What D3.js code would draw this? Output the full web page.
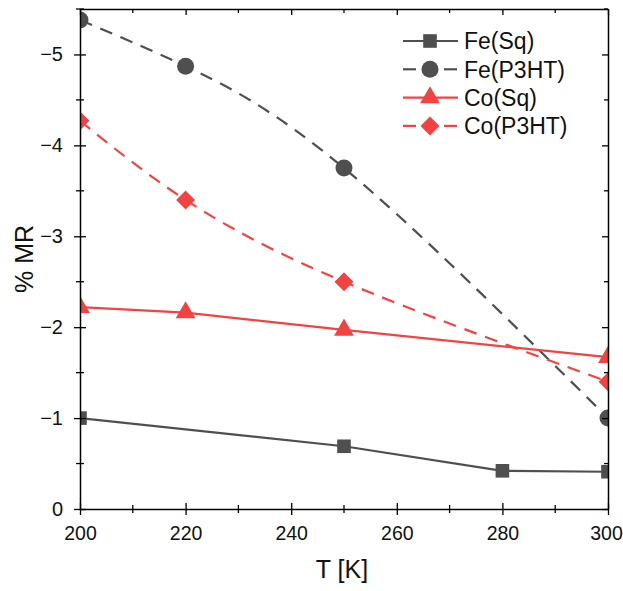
<!DOCTYPE html>
<html><head><meta charset="utf-8">
<script src="https://cdn.jsdelivr.net/npm/d3@7"></script>
<style>body{margin:0;background:#fff}svg{display:block}text{font-family:"Liberation Sans",Arial,sans-serif}</style>
</head><body><svg id="c" width="623" height="591"></svg>
<script>
const feSqT = [200, 250, 280, 300];
const feSq = [-1.0, -0.69, -0.42, -0.41];
const feP3T = [200, 220, 250, 300];
const feP3 = [-5.38, -4.87, -3.75, -1.0];
const coSqT = [200, 220, 250, 300];
const coSq = [-2.22, -2.16, -1.97, -1.67];
const coP3T = [200, 220, 250, 300];
const coP3 = [-4.27, -3.40, -2.50, -1.40];
const xTicks = [200, 220, 240, 260, 280, 300];
const yTicks = [0, -1, -2, -3, -4, -5];
const seriesNames = ["Fe(Sq)", "Fe(P3HT)", "Co(Sq)", "Co(P3HT)"];

const W = 623, H = 591;
const m = {l: 80, r: 15, t: 9, b: 82};
const svg = d3.select("#c");
const x = d3.scaleLinear().domain([200, 300]).range([m.l, W - m.r]);
const y = d3.scaleLinear().domain([0, -5.5]).range([H - m.b, m.t]);

const gray = "#4f4f4f", red = "#f24343";
const diamond = {draw(ctx, size) { const r = Math.sqrt(size / 2); ctx.moveTo(0, -r); ctx.lineTo(r, 0); ctx.lineTo(0, r); ctx.lineTo(-r, 0); ctx.closePath(); }};
const series = [
  {name: seriesNames[0], xs: feSqT, ys: feSq, color: gray, dash: null, sym: d3.symbolSquare, size: 185, curve: d3.curveLinear},
  {name: seriesNames[1], xs: feP3T, ys: feP3, color: gray, dash: "13,9", sym: d3.symbolCircle, size: 227, curve: d3.curveNatural},
  {name: seriesNames[2], xs: coSqT, ys: coSq, color: red, dash: null, sym: d3.symbolTriangle, size: 170, curve: d3.curveLinear},
  {name: seriesNames[3], xs: coP3T, ys: coP3, color: red, dash: "13,9", sym: diamond, size: 180, curve: d3.curveNatural}
];

svg.append("clipPath").attr("id", "clip").append("rect")
  .attr("x", m.l).attr("y", m.t).attr("width", W - m.l - m.r).attr("height", H - m.t - m.b);

const plot = svg.append("g").attr("clip-path", "url(#clip)");
series.forEach(s => {
  const pts = s.xs.map((v, i) => [v, s.ys[i]]);
  plot.append("path").datum(pts)
    .attr("d", d3.line().x(d => x(d[0])).y(d => y(d[1])).curve(s.curve))
    .attr("fill", "none").attr("stroke", s.color).attr("stroke-width", 2.2)
    .attr("stroke-dasharray", s.dash);
  plot.selectAll(null).data(pts).enter().append("path")
    .attr("d", d3.symbol().type(s.sym).size(s.size))
    .attr("transform", d => `translate(${x(d[0])},${y(d[1])})`)
    .attr("fill", s.color);
});

// axes
const fmt = d => d === 0 ? "0" : "\u2212" + Math.abs(d);
const xMinor = d3.range(210, 300, 20);
const yMinor = d3.range(-0.5, -5.6, -1);
const axStyle = g => { g.select(".domain").attr("stroke", "#000").attr("stroke-width", 1.5); g.selectAll("line").attr("stroke", "#000").attr("stroke-width", 1.3); };

const xb = svg.append("g").attr("transform", `translate(0,${H - m.b})`)
  .call(d3.axisBottom(x).tickValues(xTicks).tickSize(5).tickSizeOuter(0).tickFormat(d3.format("d")));
xb.selectAll(".tick line").attr("y1", -6).attr("y2", 6);
xb.selectAll(".tick text").attr("font-size", 19.5).attr("dy", "0.71em").attr("y", 17).attr("fill", "#111")
  .attr("dx", d => d === 300 ? -2 : 0);
xb.call(axStyle);
svg.append("g").selectAll("line").data(xMinor).enter().append("line")
  .attr("x1", d => x(d)).attr("x2", d => x(d)).attr("y1", H - m.b - 4).attr("y2", H - m.b + 4)
  .attr("stroke", "#000").attr("stroke-width", 1.3);

const yl = svg.append("g").attr("transform", `translate(${m.l},0)`)
  .call(d3.axisLeft(y).tickValues(yTicks).tickSize(6).tickSizeOuter(0).tickFormat(fmt));
yl.selectAll(".tick line").attr("x1", -6).attr("x2", 6);
yl.selectAll(".tick text").attr("font-size", 20).attr("x", -17).attr("fill", "#111");
yl.call(axStyle);
svg.append("g").selectAll("line").data(yMinor).enter().append("line")
  .attr("y1", d => y(d)).attr("y2", d => y(d)).attr("x1", m.l - 4).attr("x2", m.l + 4)
  .attr("stroke", "#000").attr("stroke-width", 1.3);

// top & right axes with inward ticks
const xt = svg.append("g").attr("transform", `translate(0,${m.t})`)
  .call(d3.axisTop(x).tickValues(xTicks).tickSize(-6).tickSizeOuter(0).tickFormat(""));
xt.call(axStyle);
svg.append("g").selectAll("line").data(xMinor).enter().append("line")
  .attr("x1", d => x(d)).attr("x2", d => x(d)).attr("y1", m.t).attr("y2", m.t + 4)
  .attr("stroke", "#000").attr("stroke-width", 1.3);
const yr = svg.append("g").attr("transform", `translate(${W - m.r},0)`)
  .call(d3.axisRight(y).tickValues(yTicks).tickSize(-6).tickSizeOuter(0).tickFormat(""));
yr.call(axStyle);
svg.append("g").selectAll("line").data(yMinor).enter().append("line")
  .attr("y1", d => y(d)).attr("y2", d => y(d)).attr("x1", W - m.r - 4).attr("x2", W - m.r)
  .attr("stroke", "#000").attr("stroke-width", 1.3);

// titles
svg.append("text").attr("x", 342).attr("y", 578).attr("text-anchor", "middle")
  .attr("font-size", 25).attr("fill", "#111").text("T [K]");
svg.append("text").attr("transform", `translate(33,259) rotate(-90)`)
  .attr("text-anchor", "middle").attr("font-size", 25).attr("fill", "#111").text("% MR");

// legend
const lg = svg.append("g");
series.forEach((s, i) => {
  const yy = 41 + i * 28.3;
  const g = lg.append("g");
  if (s.dash) {
    g.append("line").attr("x1", 403).attr("x2", 416).attr("y1", yy).attr("y2", yy).attr("stroke", s.color).attr("stroke-width", 2.2);
    g.append("line").attr("x1", 444).attr("x2", 457).attr("y1", yy).attr("y2", yy).attr("stroke", s.color).attr("stroke-width", 2.2);
  } else {
    g.append("line").attr("x1", 403).attr("x2", 458).attr("y1", yy).attr("y2", yy).attr("stroke", s.color).attr("stroke-width", 2.2);
  }
  g.append("path").attr("d", d3.symbol().type(s.sym).size(s.size)).attr("transform", `translate(430,${yy})`).attr("fill", s.color);
  g.append("text").attr("x", 464).attr("y", yy).attr("dy", "0.36em").attr("font-size", 23).attr("fill", "#111").text(s.name);
});
</script></body></html>
